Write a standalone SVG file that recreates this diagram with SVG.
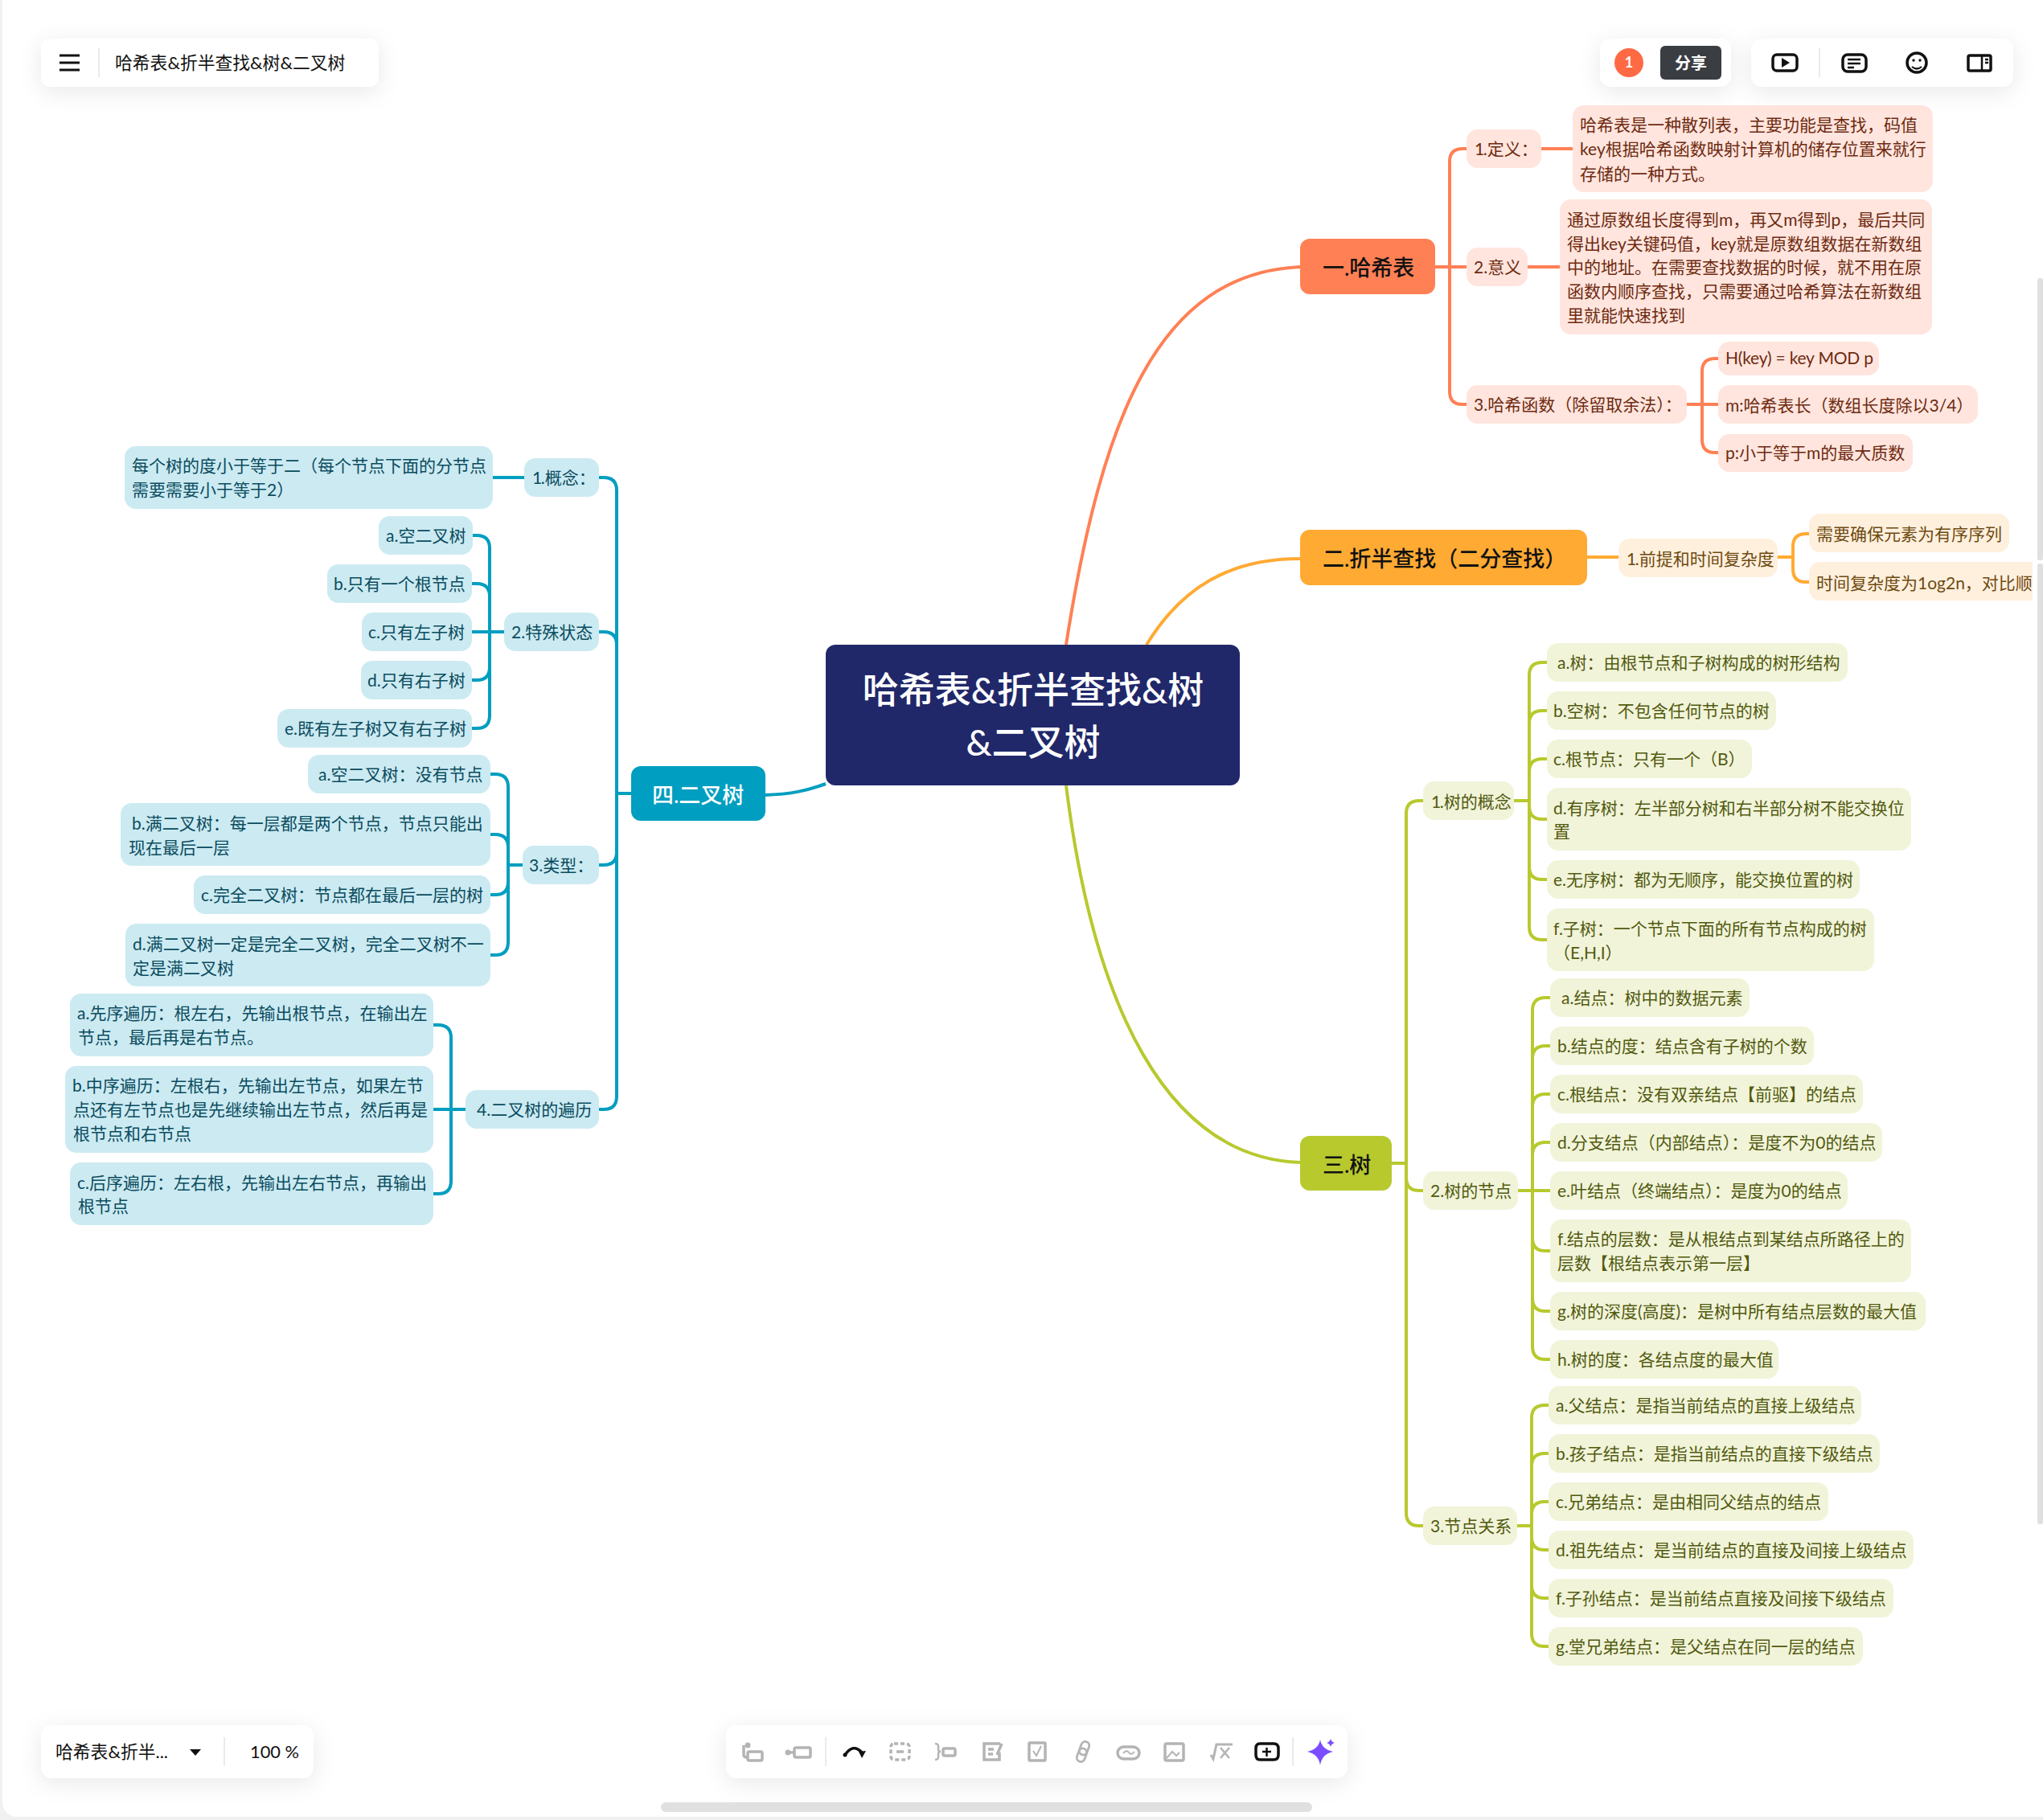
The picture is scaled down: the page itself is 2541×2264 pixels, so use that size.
<svg xmlns="http://www.w3.org/2000/svg" width="2541" height="2264" viewBox="0 0 2541 2264">
<style>
text{font-family:Lato,"Noto Sans CJK SC",sans-serif;font-size:21px}
.n{letter-spacing:-1.5px}
.c{fill:none;stroke-width:4;stroke-linecap:butt}
.co{stroke:#FF8055}.cy{stroke:#FFAA33}.cg{stroke:#B8C92E}.cb{stroke:#009EC0}
.o{fill:#FFE5DE}.y{fill:#FFF0DE}.g{fill:#F1F4D9}.b{fill:#CCEAF2}
.to{fill:#6E2A10}.ty{fill:#6E4A10}.tg{fill:#525A10}.tb{fill:#0A4C5E}
.br{font-size:27px;font-weight:500}
.ui{fill:#111;font-size:21.8px}
.ic{fill:none;stroke:#b4b4b4;stroke-width:3.5}
.ik{fill:none;stroke:#111;stroke-width:3.5}
</style>
<defs>
<filter id="sh" x="-30%" y="-80%" width="160%" height="300%"><feDropShadow dx="0" dy="6" stdDeviation="14" flood-color="#000" flood-opacity=".09"/></filter>
<clipPath id="clip"><rect x="0" y="0" width="2528" height="2264"/></clipPath>
</defs>
<rect width="2541" height="2264" fill="#f1f1f1"/>
<rect x="3" y="-20" width="2560" height="2280" rx="18" fill="#fff"/>
<rect x="2534" y="346" width="7" height="351" rx="3" fill="#e0e0e0"/>
<rect x="2534" y="701" width="7" height="1195" rx="3" fill="#e0e0e0"/>
<rect x="822" y="2242" width="810" height="12" rx="6" fill="#e0e0e0"/>

<g id="connectors">
<path class="c co" d="M1326,802C1370,520 1440,340 1617,332"/>
<path class="c cy" d="M1426,802C1470,730 1530,695 1617,695"/>
<path class="c cg" d="M1326,977C1360,1250 1450,1440 1617,1446"/>
<path class="c cb" d="M951,989C985,988 1005,983 1027,975"/>

<path class="c co" d="M1785,332H1824M1803,332V201Q1803,185 1819,185H1824M1803,332V487Q1803,503 1819,503H1824"/>
<path class="c co" d="M1917,185H1956M1900,332H1940M2098,503H2137M2117,503V462Q2117,446 2133,446H2137M2117,503V547Q2117,563 2133,563H2137"/>

<path class="c cy" d="M1973,693H2013M2211,693H2230M2230,693V680Q2230,664 2246,664H2250M2230,693V708Q2230,724 2246,724H2250"/>

<path class="c cg" d="M1731,1447H1749M1749,1447V1012Q1749,996 1765,996H1770M1749,1447V1465Q1749,1481 1765,1481H1770M1749,1447V1882Q1749,1898 1765,1898H1770"/>
<path class="c cg" d="M1883,996H1902M1902,996V840Q1902,824 1918,824H1924M1902,996V900Q1902,884 1918,884H1924M1902,996V960Q1902,944 1918,944H1924M1902,996V1003Q1902,1019 1918,1019H1924M1902,996V1078Q1902,1094 1918,1094H1924M1902,996V1153Q1902,1169 1918,1169H1924"/>
<path class="c cg" d="M1888,1481H1928M1906,1481V1257Q1906,1241 1922,1241H1928M1906,1481V1317Q1906,1301 1922,1301H1928M1906,1481V1377Q1906,1361 1922,1361H1928M1906,1481V1437Q1906,1421 1922,1421H1928M1906,1481V1540Q1906,1556 1922,1556H1928M1906,1481V1615Q1906,1631 1922,1631H1928M1906,1481V1675Q1906,1691 1922,1691H1928"/>
<path class="c cg" d="M1887,1898H1905M1905,1898V1764Q1905,1748 1921,1748H1926M1905,1898V1824Q1905,1808 1921,1808H1926M1905,1898V1884Q1905,1868 1921,1868H1926M1905,1898V1912Q1905,1928 1921,1928H1926M1905,1898V1972Q1905,1988 1921,1988H1926M1905,1898V2032Q1905,2048 1921,2048H1926"/>

<path class="c cb" d="M785,987H767M767,987V610Q767,594 751,594H745M767,987V802Q767,786 751,786H745M767,987V1060Q767,1076 751,1076H745M767,987V1364Q767,1380 751,1380H745"/>
<path class="c cb" d="M613,594H652"/>
<path class="c cb" d="M627,786H587M609,786V682Q609,666 593,666H588M609,786V742Q609,726 593,726H587M609,786V830Q609,846 593,846H587M609,786V890Q609,906 593,906H587"/>
<path class="c cb" d="M650,1076H632M632,1076V979Q632,963 616,963H610M632,1076V1054Q632,1038 616,1038H610M632,1076V1097Q632,1113 616,1113H610M632,1076V1172Q632,1188 616,1188H610"/>
<path class="c cb" d="M579,1380H539M561,1380V1291Q561,1275 545,1275H539M561,1380V1469Q561,1485 545,1485H539"/>
</g>

<g id="center"><rect x="1027" y="802" width="515" height="175" rx="12" fill="#20286A"/>
<text x="1285" y="875" text-anchor="middle" fill="#fff" style="font-size:45px;font-weight:500">哈希表&amp;折半查找&amp;树</text>
<text x="1285" y="940" text-anchor="middle" fill="#fff" style="font-size:45px;font-weight:500">&amp;二叉树</text></g>

<g id="branch-hash"><rect x="1617" y="297" width="168" height="69" rx="12" fill="#FF8055"/><text class="br" x="1645" y="343" fill="#111">一.哈希表</text></g>
<g id="branch-search"><rect x="1617" y="659" width="357" height="69" rx="12" fill="#FFAA33"/><text class="br" x="1645" y="705" fill="#111">二.折半查找（二分查找）</text></g>
<g id="branch-tree"><rect x="1617" y="1413" width="114" height="68" rx="12" fill="#B8C92E"/><text class="br" x="1645" y="1459" fill="#111">三.树</text></g>
<g id="branch-btree"><rect x="785" y="953" width="167" height="68" rx="12" fill="#009EC0"/><text class="br" x="811" y="999" fill="#fff">四.二叉树</text></g>

<g id="h1"><rect class="o" x="1824" y="161" width="93" height="48" rx="14"/><text class="to" x="1834" y="193"><tspan class="n">1</tspan>.定义：</text></g>
<g id="h1a"><rect class="o" x="1956" y="131" width="448" height="108" rx="14"/><text class="to" x="1965" y="163">哈希表是一种散列表，主要功能是查找，码值</text><text class="to" x="1965" y="193">key根据哈希函数映射计算机的储存位置来就行</text><text class="to" x="1965" y="224">存储的一种方式。</text></g>
<g id="h2"><rect class="o" x="1824" y="308" width="76" height="48" rx="14"/><text class="to" x="1833" y="340">2.意义</text></g>
<g id="h2a"><rect class="o" x="1940" y="248" width="463" height="168" rx="14"/><text class="to" x="1949" y="281">通过原数组长度得到m，再又m得到p，最后共同</text><text class="to" x="1949" y="311">得出key关键码值，key就是原数组数据在新数组</text><text class="to" x="1949" y="340">中的地址。在需要查找数据的时候，就不用在原</text><text class="to" x="1949" y="370">函数内顺序查找，只需要通过哈希算法在新数组</text><text class="to" x="1949" y="400">里就能快速找到</text></g>
<g id="h3"><rect class="o" x="1824" y="479" width="274" height="48" rx="14"/><text class="to" x="1833" y="511">3.哈希函数（除留取余法）：</text></g>
<g id="h3a"><rect class="o" x="2137" y="425" width="200" height="42" rx="14"/><text class="to" x="2146" y="453" style="letter-spacing:-.2px">H(key) = key MOD p</text></g>
<g id="h3b"><rect class="o" x="2137" y="479" width="323" height="48" rx="14"/><text class="to" x="2146" y="512">m:哈希表长（数组长度除以3/4）</text></g>
<g id="h3c"><rect class="o" x="2137" y="540" width="242" height="47" rx="14"/><text class="to" x="2146" y="571">p:小于等于m的最大质数</text></g>

<g id="s1"><rect class="y" x="2013" y="670" width="198" height="48" rx="14"/><text class="ty" x="2023" y="703"><tspan class="n">1</tspan>.前提和时间复杂度</text></g>
<g id="s1a"><rect class="y" x="2250" y="639" width="249" height="48" rx="14"/><text class="ty" x="2259" y="672">需要确保元素为有序序列</text></g>
<g id="s1b" clip-path="url(#clip)"><rect class="y" x="2250" y="699" width="300" height="48" rx="14"/><text class="ty" x="2259" y="733">时间复杂度为1og2n，对比顺序</text></g>

<g id="t1"><rect class="g" x="1770" y="972" width="113" height="48" rx="14"/><text class="tg" x="1780" y="1005"><tspan class="n">1</tspan>.树的概念</text></g>
<g id="t1a"><rect class="g" x="1924" y="800" width="374" height="48" rx="14"/><text class="tg" x="1937" y="832">a.树：由根节点和子树构成的树形结构</text></g>
<g id="t1b"><rect class="g" x="1924" y="860" width="285" height="48" rx="14"/><text class="tg" x="1932" y="892">b.空树：不包含任何节点的树</text></g>
<g id="t1c"><rect class="g" x="1924" y="920" width="255" height="48" rx="14"/><text class="tg" x="1932" y="952">c.根节点：只有一个（B）</text></g>
<g id="t1d"><rect class="g" x="1924" y="980" width="453" height="78" rx="14"/><text class="tg" x="1932" y="1013">d.有序树：左半部分树和右半部分树不能交换位</text><text class="tg" x="1932" y="1042">置</text></g>
<g id="t1e"><rect class="g" x="1924" y="1070" width="389" height="48" rx="14"/><text class="tg" x="1932" y="1102">e.无序树：都为无顺序，能交换位置的树</text></g>
<g id="t1f"><rect class="g" x="1924" y="1130" width="407" height="78" rx="14"/><text class="tg" x="1932" y="1163">f.子树：一个节点下面的所有节点构成的树</text><text class="tg" x="1932" y="1193">（E,H,I）</text></g>

<g id="t2"><rect class="g" x="1770" y="1457" width="118" height="48" rx="14"/><text class="tg" x="1779" y="1489">2.树的节点</text></g>
<g id="t2a"><rect class="g" x="1928" y="1217" width="248" height="48" rx="14"/><text class="tg" x="1942" y="1249">a.结点：树中的数据元素</text></g>
<g id="t2b"><rect class="g" x="1928" y="1277" width="328" height="48" rx="14"/><text class="tg" x="1937" y="1309">b.结点的度：结点含有子树的个数</text></g>
<g id="t2c"><rect class="g" x="1928" y="1337" width="389" height="48" rx="14"/><text class="tg" x="1937" y="1369">c.根结点：没有双亲结点【前驱】的结点</text></g>
<g id="t2d"><rect class="g" x="1928" y="1397" width="413" height="48" rx="14"/><text class="tg" x="1937" y="1429">d.分支结点（内部结点）：是度不为0的结点</text></g>
<g id="t2e"><rect class="g" x="1928" y="1457" width="370" height="48" rx="14"/><text class="tg" x="1937" y="1489">e.叶结点（终端结点）：是度为0的结点</text></g>
<g id="t2f"><rect class="g" x="1928" y="1517" width="449" height="78" rx="14"/><text class="tg" x="1937" y="1549">f.结点的层数：是从根结点到某结点所路径上的</text><text class="tg" x="1937" y="1579">层数【根结点表示第一层】</text></g>
<g id="t2g"><rect class="g" x="1928" y="1607" width="467" height="48" rx="14"/><text class="tg" x="1937" y="1639">g.树的深度(高度)：是树中所有结点层数的最大值</text></g>
<g id="t2h"><rect class="g" x="1928" y="1667" width="284" height="48" rx="14"/><text class="tg" x="1937" y="1699">h.树的度：各结点度的最大值</text></g>

<g id="t3"><rect class="g" x="1770" y="1874" width="117" height="48" rx="14"/><text class="tg" x="1779" y="1906">3.节点关系</text></g>
<g id="t3a"><rect class="g" x="1926" y="1724" width="389" height="48" rx="14"/><text class="tg" x="1935" y="1756">a.父结点：是指当前结点的直接上级结点</text></g>
<g id="t3b"><rect class="g" x="1926" y="1784" width="412" height="48" rx="14"/><text class="tg" x="1935" y="1816">b.孩子结点：是指当前结点的直接下级结点</text></g>
<g id="t3c"><rect class="g" x="1926" y="1844" width="348" height="48" rx="14"/><text class="tg" x="1935" y="1876">c.兄弟结点：是由相同父结点的结点</text></g>
<g id="t3d"><rect class="g" x="1926" y="1904" width="454" height="48" rx="14"/><text class="tg" x="1935" y="1936">d.祖先结点：是当前结点的直接及间接上级结点</text></g>
<g id="t3f"><rect class="g" x="1926" y="1964" width="429" height="48" rx="14"/><text class="tg" x="1935" y="1996">f.子孙结点：是当前结点直接及间接下级结点</text></g>
<g id="t3g"><rect class="g" x="1926" y="2024" width="391" height="48" rx="14"/><text class="tg" x="1935" y="2056">g.堂兄弟结点：是父结点在同一层的结点</text></g>

<g id="b1"><rect class="b" x="652" y="570" width="93" height="48" rx="14"/><text class="tb" x="662" y="602"><tspan class="n">1</tspan>.概念：</text></g>
<g id="b1a"><rect class="b" x="155" y="555" width="458" height="78" rx="14"/><text class="tb" x="164" y="587">每个树的度小于等于二（每个节点下面的分节点</text><text class="tb" x="164" y="617">需要需要小于等于2）</text></g>
<g id="b2"><rect class="b" x="627" y="762" width="118" height="48" rx="14"/><text class="tb" x="636" y="794">2.特殊状态</text></g>
<g id="b2a"><rect class="b" x="471" y="642" width="117" height="48" rx="14"/><text class="tb" x="480" y="674">a.空二叉树</text></g>
<g id="b2b"><rect class="b" x="407" y="702" width="180" height="48" rx="14"/><text class="tb" x="415" y="734">b.只有一个根节点</text></g>
<g id="b2c"><rect class="b" x="450" y="762" width="137" height="48" rx="14"/><text class="tb" x="458" y="794">c.只有左子树</text></g>
<g id="b2d"><rect class="b" x="449" y="822" width="138" height="48" rx="14"/><text class="tb" x="457" y="854">d.只有右子树</text></g>
<g id="b2e"><rect class="b" x="345" y="882" width="242" height="48" rx="14"/><text class="tb" x="354" y="914">e.既有左子树又有右子树</text></g>
<g id="b3"><rect class="b" x="650" y="1052" width="95" height="48" rx="14"/><text class="tb" x="658" y="1084">3.类型：</text></g>
<g id="b3a"><rect class="b" x="383" y="939" width="227" height="48" rx="14"/><text class="tb" x="396" y="971">a.空二叉树：没有节点</text></g>
<g id="b3b"><rect class="b" x="150" y="999" width="460" height="78" rx="14"/><text class="tb" x="164" y="1032">b.满二叉树：每一层都是两个节点，节点只能出</text><text class="tb" x="160" y="1062">现在最后一层</text></g>
<g id="b3c"><rect class="b" x="241" y="1089" width="369" height="48" rx="14"/><text class="tb" x="250" y="1121">c.完全二叉树：节点都在最后一层的树</text></g>
<g id="b3d"><rect class="b" x="156" y="1149" width="454" height="78" rx="14"/><text class="tb" x="165" y="1182">d.满二叉树一定是完全二叉树，完全二叉树不一</text><text class="tb" x="165" y="1212">定是满二叉树</text></g>
<g id="b4"><rect class="b" x="579" y="1356" width="166" height="48" rx="14"/><text class="tb" x="593" y="1388">4.二叉树的遍历</text></g>
<g id="b4a"><rect class="b" x="87" y="1236" width="452" height="78" rx="14"/><text class="tb" x="96" y="1268">a.先序遍历：根左右，先输出根节点，在输出左</text><text class="tb" x="97" y="1298">节点，最后再是右节点。</text></g>
<g id="b4b"><rect class="b" x="81" y="1326" width="458" height="108" rx="14"/><text class="tb" x="90" y="1358">b.中序遍历：左根右，先输出左节点，如果左节</text><text class="tb" x="91" y="1388">点还有左节点也是先继续输出左节点，然后再是</text><text class="tb" x="91" y="1418">根节点和右节点</text></g>
<g id="b4c"><rect class="b" x="87" y="1446" width="452" height="78" rx="14"/><text class="tb" x="96" y="1479">c.后序遍历：左右根，先输出左右节点，再输出</text><text class="tb" x="97" y="1508">根节点</text></g>

<g id="ui-title"><rect x="51" y="48" width="420" height="60" rx="12" fill="#fff" filter="url(#sh)"/>
<path d="M74,69H99M74,78H99M74,87H99" stroke="#111" stroke-width="3"/><path d="M123,60V96" stroke="#e4e4e4" stroke-width="1.5"/>
<text class="ui" x="143" y="86">哈希表&amp;折半查找&amp;树&amp;二叉树</text></g>

<g id="ui-share"><rect x="1990" y="48" width="163" height="60" rx="14" fill="#fff" filter="url(#sh)"/>
<circle cx="2026" cy="78" r="18" fill="#FF6A45"/><text x="2026" y="84" text-anchor="middle" fill="#fff" style="font-size:18px;font-weight:700">1</text>
<rect x="2065" y="57" width="76" height="42" rx="6" fill="#3A3D42"/><text x="2103" y="86" text-anchor="middle" fill="#fff" style="font-size:20px;font-weight:700">分享</text></g>

<g id="ui-tools"><rect x="2178" y="48" width="326" height="60" rx="14" fill="#fff" filter="url(#sh)"/>
<path d="M2263,60V96" stroke="#e4e4e4" stroke-width="1.5"/>
<rect x="2205" y="68" width="30" height="20" rx="5" class="ik"/><path d="M2216,72L2226,78L2216,84Z" fill="#111"/>
<rect x="2292" y="68" width="29" height="21" rx="6" class="ik"/><path d="M2298,74H2314M2298,79H2314M2298,84H2306" class="ik" style="stroke-width:2.5"/>
<circle cx="2384" cy="78" r="12" class="ik"/><circle cx="2380" cy="75" r="1.7" fill="#111"/><circle cx="2388" cy="75" r="1.7" fill="#111"/><path d="M2378,83Q2384,88 2390,83" class="ik" style="stroke-width:2.2"/>
<rect x="2448" y="69" width="28" height="19" rx="2" class="ik"/><path d="M2465,69V88M2469,74H2473M2469,78H2473" class="ik" style="stroke-width:2.5"/></g>

<g id="ui-doc"><rect x="51" y="2146" width="339" height="66" rx="14" fill="#fff" filter="url(#sh)"/>
<text class="ui" x="69" y="2187">哈希表&amp;折半...</text><path d="M236,2176H250L243,2184Z" fill="#111"/><path d="M279,2161V2197" stroke="#e4e4e4" stroke-width="1.5"/>
<text class="ui" x="311" y="2187">100 %</text></g>

<g id="ui-bar"><rect x="903" y="2146" width="773" height="66" rx="14" fill="#fff" filter="url(#sh)"/>
<path d="M1027,2161V2197M1608,2161V2197" stroke="#e4e4e4" stroke-width="1.5"/>
<rect x="930" y="2179" width="18" height="11" rx="2" class="ic"/><path d="M925,2171V2183Q925,2186 929,2186" class="ic"/><circle cx="930" cy="2171" r="3.5" fill="#b4b4b4"/>
<circle cx="980" cy="2180" r="3.5" fill="#b4b4b4"/><path d="M983,2180H988" class="ic"/><rect x="988" y="2174" width="20" height="12" rx="2" class="ic"/>
<path d="M1051,2183Q1061,2168 1072,2180" fill="none" stroke="#111" stroke-width="3.5"/><circle cx="1051" cy="2183" r="2.5" fill="#111"/><path d="M1068,2179L1077,2178L1072,2187Z" fill="#111"/>
<rect x="1108" y="2169" width="23" height="20" rx="4" class="ic" stroke-dasharray="5 3"/><path d="M1115,2179H1124" class="ic"/>
<path d="M1163,2169Q1168,2169 1167,2174V2176Q1167,2179 1170,2179Q1167,2179 1167,2182V2184Q1168,2189 1163,2189" class="ic" style="stroke-width:2.5"/><rect x="1173" y="2175" width="15" height="9" rx="2" class="ic"/>
<path d="M1244,2169H1224V2189H1243V2180M1229,2176H1236M1229,2182H1235M1246,2169L1240,2183" class="ic"/>
<rect x="1280" y="2168" width="20" height="22" rx="1" class="ic"/><path d="M1285,2178L1289,2184L1295,2172" class="ic" style="stroke-width:2"/>
<rect x="1342" y="2166" width="10" height="17" rx="5" class="ic" transform="rotate(20 1347 2179)" style="stroke-width:2.8"/><rect x="1342" y="2175" width="10" height="17" rx="5" class="ic" transform="rotate(20 1347 2179)" style="stroke-width:2.8"/>
<rect x="1390" y="2173" width="27" height="15" rx="7.5" class="ic"/><path d="M1397,2181Q1401,2176 1404,2180Q1407,2184 1411,2179" class="ic" style="stroke-width:2"/>
<rect x="1449" y="2169" width="23" height="21" rx="2" class="ic"/><path d="M1451,2187L1458,2179L1463,2184L1467,2180" class="ic" style="stroke-width:2"/>
<path d="M1506,2183L1509,2188L1513,2170H1533" class="ic" style="stroke-width:3"/><path d="M1518,2174L1529,2187M1529,2174L1518,2187" class="ic" style="stroke-width:2.5"/>
<path d="M1567,2169H1584Q1590,2169 1590,2175V2183Q1590,2189 1584,2189H1567Q1562,2189 1562,2183V2175Q1562,2169 1567,2169Z" class="ik"/><path d="M1570,2179H1581M1575.500,2174V2185" class="ik" style="stroke-width:2.5"/>
<path d="M1642,2164Q1644,2176 1658,2179Q1644,2182 1642,2196Q1640,2182 1626,2179Q1640,2176 1642,2164Z" fill="#7B4DFF"/><path d="M1655,2163Q1656,2167 1660,2168Q1656,2169 1655,2173Q1654,2169 1650,2168Q1654,2167 1655,2163Z" fill="#7B4DFF"/></g>
</svg>
